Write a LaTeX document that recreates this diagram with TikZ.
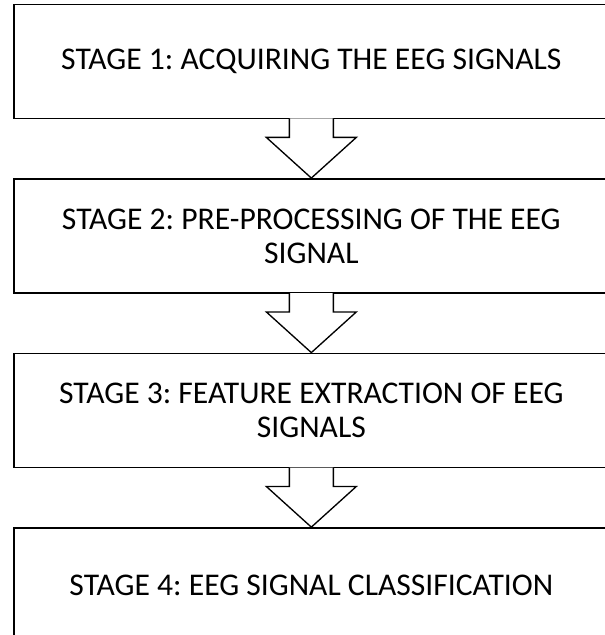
\documentclass[tikz,border=0pt]{standalone}
\usepackage{fontspec}
\setmainfont{Carlito}
\usetikzlibrary{positioning,calc}

\begin{document}
\frenchspacing
\begin{tikzpicture}[
  stagebox/.style={draw=black, line width=1.4pt, fill=white,
    minimum width=446pt, minimum height=85.5pt, align=center,
    font=\fontsize{23.7}{25.5}\selectfont},
  seta/.style={draw=black, line width=1pt, fill=white, line join=miter}
  ]
  \useasboundingbox (0,0) rectangle (453pt,-476.25pt);
  \node[stagebox] (etapa1) at (233.5pt,-46.1pt) {STAGE 1: ACQUIRING THE EEG SIGNALS};
  \node[stagebox, below=44pt of etapa1] (etapa2) {STAGE 2: PRE-PROCESSING OF THE EEG\\SIGNAL};
  \node[stagebox, below=44pt of etapa2] (etapa3) {STAGE 3: FEATURE EXTRACTION OF EEG\\SIGNALS};
  \node[stagebox, below=44pt of etapa3] (etapa4) {STAGE 4: EEG SIGNAL CLASSIFICATION};
  % setas largas entre as etapas
  \foreach \a/\b in {etapa1/etapa2, etapa2/etapa3, etapa3/etapa4}{
    \filldraw[seta] ($(\a.south)+(-16.5pt,0.7pt)$) -- ++(0,-14.2pt) -- ++(-17.25pt,0)
      -- (\b.north) -- ($(\a.south)+(33.75pt,-13.5pt)$) -- ++(-17.25pt,0) -- ++(0,14.2pt);
  }
\end{tikzpicture}
\end{document}
